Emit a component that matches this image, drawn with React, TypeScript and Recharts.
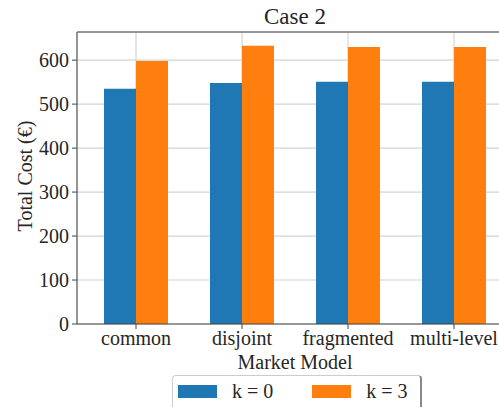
import { BarChart, Bar, XAxis, YAxis, CartesianGrid, ReferenceLine } from "recharts";

const categories = ["common", "disjoint", "fragmented", "multi-level"];
const k0Values = [535, 548, 551, 551];
const k3Values = [598, 633, 630, 630];
const yTicks = [0, 100, 200, 300, 400, 500, 600];
const seriesNames = ["k = 0", "k = 3"];
const seriesColors = ["#1f77b4", "#ff7f0e"];

const data = categories.map((name, i) => ({
  name,
  k0: k0Values[i],
  k3: k3Values[i],
}));

const FONT = "'Liberation Serif', 'DejaVu Serif', serif";
const TEXT = "#262626";
const YMAX = 664;

export default function App() {
  return (
    <div
      style={{
        position: "absolute",
        left: 0,
        top: 0,
        width: 499,
        height: 407,
        overflow: "hidden",
        background: "#fff",
        fontFamily: FONT,
      }}
    >
      <div
        style={{
          position: "absolute",
          left: 245,
          width: 100,
          top: 2,
          textAlign: "center",
          fontSize: 23,
          lineHeight: "30px",
          color: TEXT,
        }}
      >
        Case 2
      </div>
      <BarChart
        width={540}
        height={407}
        data={data}
        margin={{ top: 32, right: 27, left: 17, bottom: 33 }}
        barGap={0}
      >
        <CartesianGrid stroke="#d4d4d4" strokeWidth={1.2} />
        <XAxis
          dataKey="name"
          height={50}
          padding={{ left: 6, right: 6 }}
          tickSize={5}
          tickMargin={2}
          stroke="#444"
          tick={{ fontFamily: FONT, fontSize: 20, fill: TEXT }}
          label={{
            value: "Market Model",
            position: "insideBottom",
            offset: 5,
            style: { fontFamily: FONT, fontSize: 20, fill: TEXT },
          }}
        />
        <YAxis
          width={60}
          domain={[0, YMAX]}
          ticks={yTicks}
          tickSize={5}
          tickMargin={3}
          stroke="#444"
          allowDataOverflow
          tick={{ fontFamily: FONT, fontSize: 20, fill: TEXT }}
          label={{
            content: () => (
              <text
                x={25}
                y={176}
                transform="rotate(-90 25 176)"
                textAnchor="middle"
                dominantBaseline="central"
                style={{ fontFamily: FONT, fontSize: 20, fill: TEXT }}
              >
                Total Cost (€)
              </text>
            ),
          }}
        />
        <ReferenceLine y={YMAX} stroke="#444" />
        <Bar dataKey="k0" name={seriesNames[0]} fill={seriesColors[0]} barSize={32} isAnimationActive={false} />
        <Bar dataKey="k3" name={seriesNames[1]} fill={seriesColors[1]} barSize={32} isAnimationActive={false} />
      </BarChart>
      <div
        style={{
          position: "absolute",
          left: 172,
          top: 375,
          width: 250,
          height: 40,
          border: "1px solid #ccc",
          borderRight: "2px solid #888",
          borderRadius: 4,
          boxSizing: "border-box",
          display: "flex",
          alignItems: "flex-start",
          paddingTop: 3,
          paddingLeft: 5,
          fontSize: 20,
          lineHeight: "24px",
          color: TEXT,
        }}
      >
        {seriesNames.map((n, i) => (
          <div key={n} style={{ display: "flex", alignItems: "center", marginRight: i === 0 ? 39 : 0 }}>
            <span style={{ display: "inline-block", width: 39, height: 13, background: seriesColors[i], marginRight: 15 }} />
            <span>{n}</span>
          </div>
        ))}
      </div>
    </div>
  );
}
